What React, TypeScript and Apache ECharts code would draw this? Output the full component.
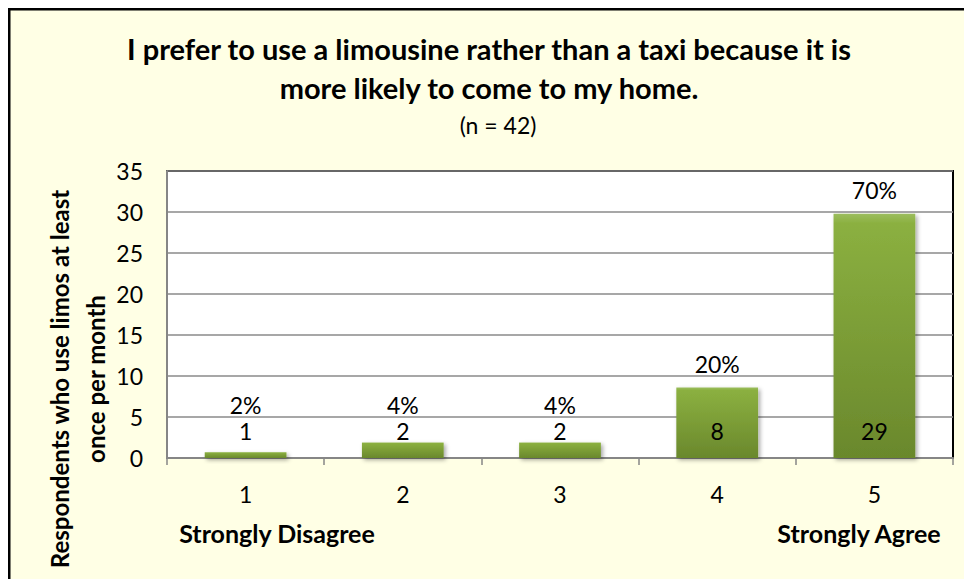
import React, { useEffect, useRef } from "react";
import * as echarts from "echarts";

const titleLines = [
  "I prefer to use a limousine rather than a taxi because it is",
  "more likely to come to my home.",
];
const subtitle = "(n = 42)";
const yAxisTitleLines = ["Respondents who use limos at least", "once per month"];
const categories = ["1", "2", "3", "4", "5"];
const barHeights = [0.7, 1.9, 1.9, 8.6, 29.8];
const counts = [1, 2, 2, 8, 29];
const percents = ["2%", "4%", "4%", "20%", "70%"];
const scaleEndLabels = ["Strongly Disagree", "Strongly Agree"];
const yMin = 0;
const yMax = 35;
const yInterval = 5;

const FONT = 'Lato, "Open Sans", "Noto Sans", sans-serif';
const W = 964;
const H = 571;

export default function App() {
  const ref = useRef<HTMLDivElement>(null);

  useEffect(() => {
    if (!ref.current) return;
    const chart = echarts.init(ref.current, null, { renderer: "svg" });
    const tallLimit = 5;

    const gradient = new echarts.graphic.LinearGradient(0, 0, 0, 1, [
      { offset: 0, color: "#9CBE5E" },
      { offset: 0.04, color: "#8BB040" },
      { offset: 1, color: "#6A882C" },
    ]);

    const option: any = {
      animation: false,
      backgroundColor: "#FFFFE5",
      title: [
        {
          text: titleLines.join("\n"),
          left: 476,
          top: 16,
          textAlign: "center",
          textStyle: {
            fontFamily: FONT,
            fontWeight: "bold",
            fontSize: 29,
            lineHeight: 39,
            color: "#000",
          },
        },
        {
          text: subtitle,
          left: 485,
          top: 98,
          textAlign: "center",
          textStyle: {
            fontFamily: FONT,
            fontWeight: "normal",
            fontSize: 23,
            lineHeight: 28,
            color: "#000",
          },
        },
      ],
      grid: {
        left: 159,
        top: 163,
        right: 19,
        bottom: 121,
        show: true,
        backgroundColor: "#FFFFFF",
        borderColor: "#000",
        borderWidth: 2,
        containLabel: false,
      },
      xAxis: {
        type: "category",
        data: categories,
        axisLine: { show: true, lineStyle: { color: "#868686", width: 2 } },
        axisTick: { show: true, length: 7, lineStyle: { color: "#868686", width: 1.5 } },
        axisLabel: {
          margin: 24,
          fontFamily: FONT,
          fontSize: 23,
          color: "#000",
        },
        splitLine: { show: false },
      },
      yAxis: {
        type: "value",
        min: yMin,
        max: yMax,
        interval: yInterval,
        axisLine: { show: true, lineStyle: { color: "#868686", width: 2 } },
        axisTick: { show: false },
        axisLabel: {
          margin: 24,
          fontFamily: FONT,
          fontSize: 23,
          color: "#000",
        },
        splitLine: { show: true, lineStyle: { color: "#8A8A8A", width: 1.5 } },
      },
      series: [
        {
          type: "bar",
          data: barHeights,
          barWidth: "52%",
          z: 2,
          itemStyle: {
            color: gradient,
            shadowColor: "rgba(0,0,0,0.35)",
            shadowBlur: 4,
            shadowOffsetX: 2,
            shadowOffsetY: 2,
          },
          label: {
            show: true,
            position: "top",
            distance: 12,
            fontFamily: FONT,
            fontSize: 23,
            color: "#000",
            formatter: (p: any) =>
              barHeights[p.dataIndex] >= tallLimit ? percents[p.dataIndex] : "",
          },
        },
        {
          type: "bar",
          data: barHeights,
          barWidth: "52%",
          barGap: "-100%",
          z: 3,
          itemStyle: { color: "rgba(0,0,0,0)" },
          label: {
            show: true,
            position: "insideBottom",
            distance: 14,
            fontFamily: FONT,
            fontSize: 23,
            color: "#000",
            lineHeight: 26,
            formatter: (p: any) => {
              const i = p.dataIndex;
              return barHeights[i] >= tallLimit
                ? String(counts[i])
                : percents[i] + "\n" + String(counts[i]);
            },
          },
        },
      ],
      graphic: [
        {
          type: "line",
          shape: { x1: 1, y1: 0, x2: 1, y2: H },
          style: { stroke: "#000", lineWidth: 3 },
        },
        {
          type: "line",
          shape: { x1: 0, y1: 1, x2: W, y2: 1 },
          style: { stroke: "#000", lineWidth: 3 },
        },
        {
          type: "text",
          x: 69,
          y: 371,
          rotation: Math.PI / 2,
          style: {
            text: yAxisTitleLines.join("\n"),
            align: "center",
            verticalAlign: "middle",
            textAlign: "center",
            textVerticalAlign: "middle",
            font: `bold 24px ${FONT}`,
            lineHeight: 36,
            fill: "#000",
          },
        },
        {
          type: "text",
          x: 269,
          y: 525,
          style: {
            text: scaleEndLabels[0],
            align: "center",
            verticalAlign: "middle",
            textAlign: "center",
            textVerticalAlign: "middle",
            font: `bold 25px ${FONT}`,
            fill: "#000",
          },
        },
        {
          type: "text",
          x: 851,
          y: 525,
          style: {
            text: scaleEndLabels[1],
            align: "center",
            verticalAlign: "middle",
            textAlign: "center",
            textVerticalAlign: "middle",
            font: `bold 25px ${FONT}`,
            fill: "#000",
          },
        },
      ],
    };

    chart.setOption(option);
    return () => chart.dispose();
  }, []);

  return <div ref={ref} style={{ width: W, height: H }} />;
}
